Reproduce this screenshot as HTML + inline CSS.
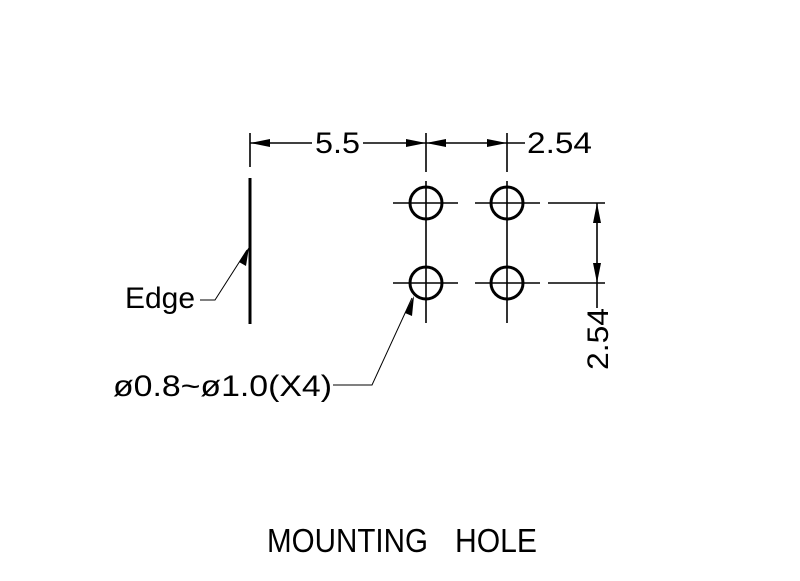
<!DOCTYPE html>
<html><head><style>html,body{margin:0;padding:0;background:#fff}</style></head><body>
<svg width="800" height="576" xmlns="http://www.w3.org/2000/svg" font-family="Liberation Sans, sans-serif">
<rect width="800" height="576" fill="#fff"/>
<g stroke="#000" fill="none">
<line x1="250" y1="178" x2="250" y2="324" stroke-width="3"/>
<line x1="250" y1="133" x2="250" y2="167" stroke-width="1.6"/>
<line x1="426" y1="133" x2="426" y2="172" stroke-width="1.6"/>
<line x1="507" y1="133" x2="507" y2="172" stroke-width="1.6"/>
<line x1="250" y1="143" x2="312" y2="143" stroke-width="1.4"/>
<line x1="363" y1="143" x2="426" y2="143" stroke-width="1.4"/>
<line x1="426" y1="143" x2="525" y2="143" stroke-width="1.4"/>
<line x1="426" y1="181" x2="426" y2="323" stroke-width="1.6"/>
<line x1="507" y1="181" x2="507" y2="323" stroke-width="1.6"/>
<line x1="393" y1="203" x2="458" y2="203" stroke-width="1.6"/>
<line x1="475" y1="203" x2="540" y2="203" stroke-width="1.6"/>
<line x1="393" y1="283" x2="458" y2="283" stroke-width="1.6"/>
<line x1="475" y1="283" x2="540" y2="283" stroke-width="1.6"/>
<circle cx="426" cy="203" r="16" stroke-width="3"/>
<circle cx="507" cy="203" r="16" stroke-width="3"/>
<circle cx="426" cy="283" r="16" stroke-width="3"/>
<circle cx="507" cy="283" r="16" stroke-width="3"/>
<line x1="548" y1="203" x2="605" y2="203" stroke-width="1.6"/>
<line x1="548" y1="283" x2="605" y2="283" stroke-width="1.6"/>
<line x1="597" y1="203" x2="597" y2="308" stroke-width="1.6"/>
<polyline points="200,300 215,300 247,250" stroke-width="1"/>
<polyline points="333,385 372,385 412,298" stroke-width="1"/>
</g>
<g fill="#000">
<polygon points="250,143 270,139 270,147"/>
<polygon points="426,143 406,139 406,147"/>
<polygon points="426,143 446,139 446,147"/>
<polygon points="507,143 487,139 487,147"/>
<polygon points="597,203 593,223 601,223"/>
<polygon points="597,283 593,263 601,263"/>
<polygon points="249,247 246,266 239,262"/>
<polygon points="414,296 412,316 405,313"/>
</g>
<g font-size="30" fill="#000">
<text x="315" y="153" textLength="45" lengthAdjust="spacingAndGlyphs">5.5</text>
<text x="527" y="153" textLength="65" lengthAdjust="spacingAndGlyphs">2.54</text>
<text x="125" y="308" textLength="70" lengthAdjust="spacingAndGlyphs">Edge</text>
<text x="113" y="396" textLength="219" lengthAdjust="spacingAndGlyphs">ø0.8~ø1.0(X4)</text>
<text transform="translate(608,370) rotate(-90)" textLength="62" lengthAdjust="spacingAndGlyphs">2.54</text>
<text x="267" y="552" font-size="33" textLength="161" lengthAdjust="spacingAndGlyphs">MOUNTING</text>
<text x="455" y="552" font-size="33" textLength="82" lengthAdjust="spacingAndGlyphs">HOLE</text>
</g>
</svg>
</body></html>
